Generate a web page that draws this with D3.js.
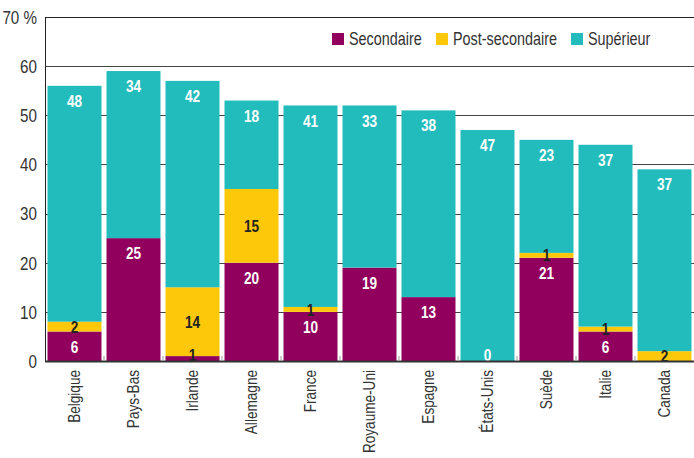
<!DOCTYPE html>
<html>
<head>
<meta charset="utf-8">
<script src="https://cdn.jsdelivr.net/npm/d3@7"></script>
<style>
  body { margin: 0; background: #fff; }
  text { font-family: "Liberation Sans", Arial, sans-serif; }
</style>
</head>
<body>
<div id="chart"></div>
<script>
// données
var pays = ['Belgique', 'Pays-Bas', 'Irlande', 'Allemagne', 'France', 'Royaume-Uni',
  'Espagne', 'États-Unis', 'Suède', 'Italie', 'Canada'];
// null = pas d'étiquette
var secondaire = [6, 25, 1, 20, 10, 19, 13, 0, 21, 6, null];
var postSecondaire = [2, null, 14, 15, 1, null, null, null, 1, 1, 2];
var superieur = [48, 34, 42, 18, 41, 33, 38, 47, 23, 37, 37];
var yTicks = [0, 10, 20, 30, 40, 50, 60, 70];
var series = ['Secondaire', 'Post-secondaire', 'Supérieur'];

var config = {
  width: 694,
  height: 458,
  margin: { top: 17, right: 0, bottom: 97, left: 45 },
  colors: ['#91005c', '#fec80a', '#23bcbc'],
  narrow: 0.8 // police étroite simulée
};

var innerW = config.width - config.margin.left - config.margin.right;
var innerH = config.height - config.margin.top - config.margin.bottom;

var rows = pays.map(function(p, i) {
  return { pays: p, values: [secondaire[i], postSecondaire[i], superieur[i]] };
});

var x = d3.scaleBand()
  .domain(pays)
  .range([0, innerW])
  .paddingInner(0.085)
  .paddingOuter(0.0425);

var y = d3.scaleLinear()
  .domain([0, 70])
  .range([innerH, 0]);

function at(px, py, rot) {
  return 'translate(' + px + ',' + py + ')' + (rot ? ' rotate(' + rot + ')' : '') +
    ' scale(' + config.narrow + ',1)';
}

var svg = d3.select('#chart')
  .append('svg')
  .attr('width', config.width)
  .attr('height', config.height);

var g = svg.append('g')
  .attr('transform', 'translate(' + config.margin.left + ',' + config.margin.top + ')');

// grille
g.selectAll('.grid')
  .data(yTicks)
  .enter()
  .append('line')
  .attr('x1', 0)
  .attr('x2', innerW)
  .attr('y1', function(d) { return Math.round(y(d)) + 0.5; })
  .attr('y2', function(d) { return Math.round(y(d)) + 0.5; })
  .attr('stroke', function(d) { return d === 70 ? '#222' : '#444'; })
  .attr('stroke-width', 1);

// piles
var stacks = rows.map(function(r) {
  var y0 = 0;
  return r.values.map(function(v, k) {
    var val = v || 0;
    var seg = { pays: r.pays, k: k, v: v, y0: y0, y1: y0 + val };
    y0 += val;
    return seg;
  });
});

var barG = g.selectAll('.bar')
  .data(stacks)
  .enter()
  .append('g')
  .attr('class', 'bar');

barG.selectAll('rect')
  .data(function(d) { return d; })
  .enter()
  .append('rect')
  .attr('x', function(d) { return x(d.pays); })
  .attr('width', x.bandwidth())
  .attr('y', function(d) { return y(d.y1); })
  .attr('height', function(d) { return y(d.y0) - y(d.y1); })
  .attr('fill', function(d) { return config.colors[d.k]; });

// étiquettes
barG.selectAll('text')
  .data(function(d) { return d.filter(function(s) { return s.v !== null; }); })
  .enter()
  .append('text')
  .attr('transform', function(d) {
    var top = y(d.y1), bot = y(d.y0);
    var cy;
    if (d.k === 1) cy = (top + bot) / 2;
    else if (d.k === 0) cy = Math.min(top + 15, innerH - 6);
    else cy = top + 15;
    return at(x(d.pays) + x.bandwidth() / 2, cy);
  })
  .attr('dy', '0.36em')
  .attr('text-anchor', 'middle')
  .attr('font-size', 17)
  .attr('font-weight', 'bold')
  .attr('fill', function(d) {
    if (d.k === 1) return '#222';
    if (d.k === 0 && d.v > 0 && d.v < 3) return '#222';
    return '#fff';
  })
  .text(function(d) { return d.v; });

// axe y
g.append('line')
  .attr('x1', 0.5).attr('x2', 0.5)
  .attr('y1', 0).attr('y2', innerH)
  .attr('stroke', '#222');

g.selectAll('.ytick')
  .data(yTicks)
  .enter()
  .append('text')
  .attr('transform', function(d) { return at(-8, y(d)); })
  .attr('dy', '0.36em')
  .attr('text-anchor', 'end')
  .attr('font-size', 19)
  .attr('fill', '#333')
  .text(function(d) { return d === 70 ? '70 %' : d; });

// axe x
g.append('line')
  .attr('x1', 0).attr('x2', innerW)
  .attr('y1', innerH + 0.5).attr('y2', innerH + 0.5)
  .attr('stroke', '#333')
  .attr('stroke-width', 2);

g.selectAll('.xtick')
  .data(pays.slice(1))
  .enter()
  .append('line')
  .attr('x1', function(d) { return x(d) - x.step() * x.paddingInner() / 2; })
  .attr('x2', function(d) { return x(d) - x.step() * x.paddingInner() / 2; })
  .attr('y1', innerH - 5).attr('y2', innerH)
  .attr('stroke', '#999');

g.selectAll('.xlabel')
  .data(pays)
  .enter()
  .append('text')
  .attr('transform', function(d) {
    return at(x(d) + x.bandwidth() / 2, innerH + 9, -90);
  })
  .attr('dy', '0.35em')
  .attr('text-anchor', 'end')
  .attr('font-size', 17)
  .attr('fill', '#333')
  .text(function(d) { return d; });

// légende
var legendX = [332, 436, 571];
var legend = svg.selectAll('.legend')
  .data(series)
  .enter()
  .append('g')
  .attr('transform', function(d, i) { return 'translate(' + legendX[i] + ',33)'; });

legend.append('rect')
  .attr('width', 12)
  .attr('height', 12)
  .attr('fill', function(d, i) { return config.colors[i]; });

legend.append('text')
  .attr('transform', at(17, 12))
  .attr('font-size', 18)
  .attr('fill', '#333')
  .text(function(d) { return d; });
</script>
</body>
</html>
